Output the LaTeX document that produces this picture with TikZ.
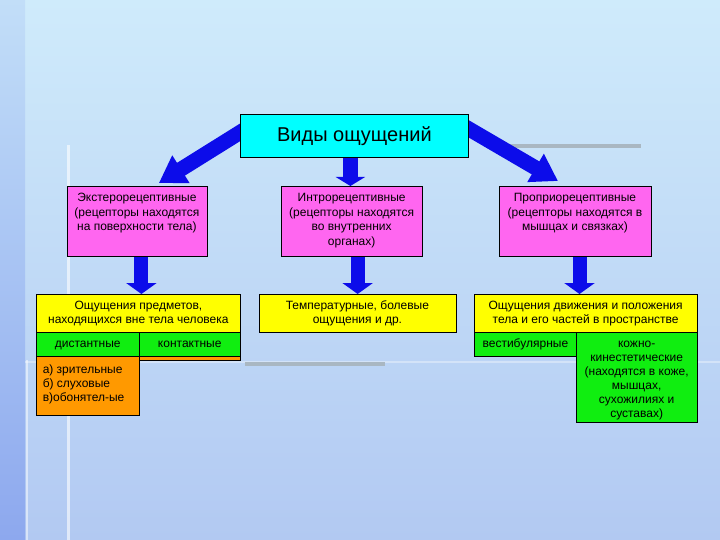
\documentclass[tikz,border=0pt]{standalone}
\usepackage{fontspec}
\setmainfont{Liberation Sans}
\usetikzlibrary{arrows.meta,calc}

\pgfdeclarelayer{background}
\pgfdeclarelayer{arrows}
\pgfsetlayers{background,arrows,main}

% text block pinned to the top of a box: height, width, content
\newcommand{\topText}[3]{\parbox[c][#1][t]{#2}{\centering #3}}

\begin{document}
\begin{tikzpicture}[x=1pt, y=-1pt,
    box/.style={draw=black, line width=0.8pt, inner sep=0pt, anchor=north west,
        align=center, font=\fontsize{12}{14.5}\selectfont},
    cell/.style={box, fill=greenFill, minimum height=24pt, text height=8pt, text depth=2.5pt},
    fatArrow/.style={draw=arrowBlue, line width=15pt, -{Triangle[length=26pt,width=31pt]}},
    downArrow/.style={draw=arrowBlue, line width=14pt, -{Triangle[length=11pt,width=30pt]}}]

    \definecolor{bgTop}{HTML}{CFEBFB}
    \definecolor{bgBottom}{HTML}{B2C9F2}
    \definecolor{bandTop}{HTML}{C2DEF8}
    \definecolor{bandBottom}{HTML}{8DA8EE}
    \definecolor{titleCyan}{HTML}{00FFFF}
    \definecolor{pinkFill}{HTML}{FF66F0}
    \definecolor{yellowFill}{HTML}{FFFF00}
    \definecolor{greenFill}{HTML}{10EE10}
    \definecolor{orangeFill}{HTML}{FF9900}
    \definecolor{arrowBlue}{HTML}{0C0CEA}
    \definecolor{lineGrey}{HTML}{A9B7C2}

    \useasboundingbox (0,0) rectangle (720,540);

    % Draw background
    \begin{pgfonlayer}{background}
        \fill[top color=bgTop, bottom color=bgBottom] (0,0) rectangle (720,540);
        \fill[top color=bandTop, bottom color=bandBottom] (0,0) rectangle (25,540);
        \draw[white, opacity=0.6, line width=3pt] (68,145) -- (68,540);
        \draw[white, opacity=0.5, line width=2pt] (27,360) -- (27,540);
        \draw[white, opacity=0.35, line width=2pt] (25,362) -- (720,362);
        \draw[lineGrey, line width=4pt] (505,146) -- (641,146);
        \draw[lineGrey, line width=4pt] (245,364) -- (385,364);
    \end{pgfonlayer}

    % Title
    \node[box, fill=titleCyan, minimum width=228pt, minimum height=43pt,
        font=\fontsize{20}{22}\selectfont] (title) at (240,114) {Виды ощущений};

    % Receptor groups
    \node[box, fill=pinkFill, minimum width=140pt, minimum height=70pt] (ext) at (66.5,186)
        {\topText{56pt}{138pt}{Экстерорецептивные\\(рецепторы находятся\\на поверхности тела)}};
    \node[box, fill=pinkFill, minimum width=140.5pt, minimum height=70pt] (intro) at (281,186)
        {\topText{56pt}{138pt}{Интрорецептивные\\(рецепторы находятся\\во внутренних\\органах)}};
    \node[box, fill=pinkFill, minimum width=152pt, minimum height=70pt] (proprio) at (498.6,186)
        {\topText{56pt}{150pt}{Проприорецептивные\\(рецепторы находятся в\\мышцах и связках)}};

    % Sensations
    \node[box, fill=yellowFill, minimum width=204pt, minimum height=38pt] (objects) at (36,294)
        {Ощущения предметов,\\находящихся вне тела человека};
    \node[box, fill=yellowFill, minimum width=197pt, minimum height=38pt] (temper) at (258.5,294)
        {Температурные, болевые\\ощущения и др.};
    \node[box, fill=yellowFill, minimum width=222.5pt, minimum height=38pt] (motion) at (474,294)
        {Ощущения движения и положения\\тела и его частей в пространстве};

    % Subtypes
    \node[cell, minimum width=102.7pt] (distant) at (36,332) {дистантные};
    \node[cell, minimum width=101.3pt] (contact) at (138.7,332) {контактные};
    \draw[fill=orangeFill, line width=0.8pt] (contact.south west) rectangle (contact.south east |- 0,360);
    \node[box, fill=orangeFill, minimum width=102.7pt, minimum height=59pt,
        font=\fontsize{12}{14}\selectfont] (senses) at (36,356)
        {\parbox[c][43pt][t]{90pt}{\raggedright а) зрительные\\б) слуховые\\в)обонятел-ые}};
    \node[cell, minimum width=102pt] (vestib) at (474,332) {вестибулярные};
    \node[box, fill=greenFill, minimum width=120.5pt, minimum height=90pt,
        font=\fontsize{12}{14}\selectfont] (kinest) at (576,332)
        {\topText{72pt}{118pt}{кожно-\\кинестетические\\(находятся в коже,\\мышцах,\\сухожилиях и\\суставах)}};

    % Draw arrows
    \begin{pgfonlayer}{arrows}
        \draw[fatArrow, shorten <=-14pt] ([yshift=3.5pt]title.west) -- ([xshift=22pt,yshift=3pt]ext.north);
        \draw[fatArrow, shorten <=-14pt] ([yshift=7pt]title.east) -- ([xshift=-17pt,yshift=5pt]proprio.north);
        \draw[draw=arrowBlue, line width=15pt, -{Triangle[length=9pt,width=29pt]}, shorten <=-4pt]
            ([xshift=-4pt]title.south) -- ([xshift=-4pt]title.south |- intro.north);
        \draw[downArrow, shorten <=-2pt] ([xshift=4.5pt]ext.south) -- ([xshift=4.5pt]ext.south |- objects.north);
        \draw[downArrow, shorten <=-2pt] ([xshift=6pt]intro.south) -- ([xshift=6pt]intro.south |- temper.north);
        \draw[downArrow, shorten <=-2pt] ([xshift=4.5pt]proprio.south) -- ([xshift=4.5pt]proprio.south |- motion.north);
    \end{pgfonlayer}

\end{tikzpicture}
\end{document}
